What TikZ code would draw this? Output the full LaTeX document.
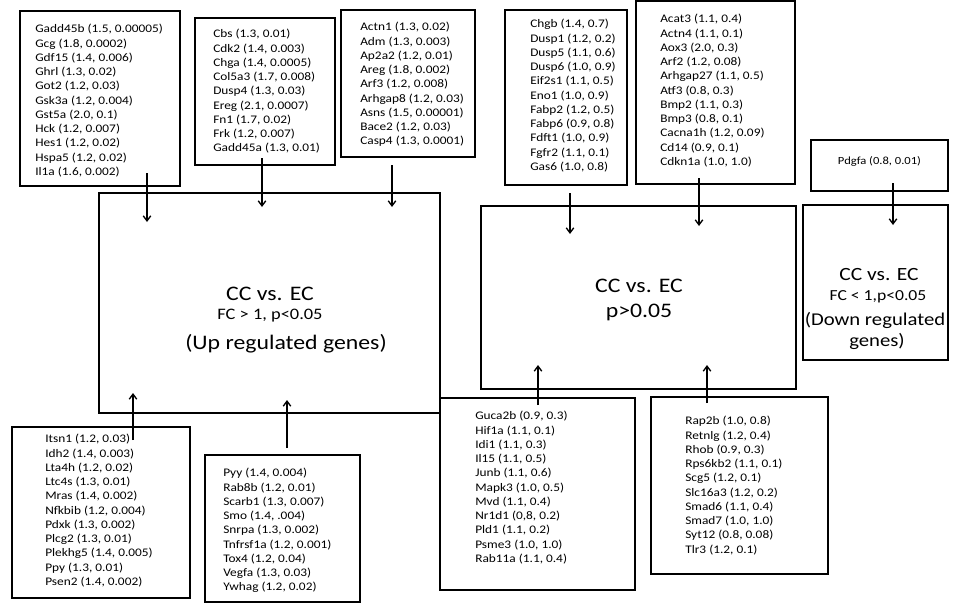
\documentclass[tikz,border=0pt]{standalone}
\usepackage{fontspec}
\setmainfont{Carlito}[FakeStretch=1.15]
\usetikzlibrary{arrows.meta,fit}
\begin{document}
\begin{tikzpicture}[x=0.75pt,y=-0.75pt,
  box/.style={draw,line width=2.1pt,inner sep=0pt,outer sep=0pt},
  genelist/.style={anchor=north west,inner sep=0pt,align=left,font=\fontsize{8.7}{10.7}\selectfont},
  flow/.style={line width=1pt,-{Straight Barb[length=3.8pt,width=5.6pt]}},
  bigtxt/.style={inner sep=0pt,font=\fontsize{15.5}{18}\selectfont},
  smalltxt/.style={inner sep=0pt,font=\fontsize{12}{14}\selectfont}]
\useasboundingbox (0,0) rectangle (960,604);
\node[box,fit={(99,193) (440,413)}] (up) {}; \node[box,fit={(481,206) (796,389)}] (ns) {};
\node[box,fit={(803,205) (948,360)}] (dn) {};
\node[bigtxt] (uptitle) at (270,294) {CC vs. EC}; \node[smalltxt] (upfc) at (270,316) {FC > 1, p<0.05};
\node[bigtxt] (upnote) at (286,344) {(Up regulated genes)};
\node[bigtxt] (nstitle) at (639,286) {CC vs. EC}; \node[bigtxt] (nsp) at (639,312) {p>0.05};
\node[bigtxt,font=\fontsize{14}{16}\selectfont] (dntitle) at (879,275) {CC vs. EC};
\node[smalltxt,font=\fontsize{11.5}{13}\selectfont] (dnfc) at (878,297) {FC < 1,p<0.05};
\node[bigtxt,font=\fontsize{13.5}{16}\selectfont] (dnnote) at (875,320) {(Down regulated};
\node[bigtxt,font=\fontsize{13.5}{16}\selectfont] (dngenes) at (877,341) {genes)};
\node[box,fit={(20,11) (180,186)}] (A) {}; \node[box,fit={(195,18) (335,165)}] (B) {};
\node[box,fit={(341,10) (475,157)}] (C) {}; \node[box,fit={(505,10) (627,185)}] (D) {};
\node[box,fit={(636,1) (795,184)}] (E) {};
\node[box,fit={(811,140) (948,191)},font=\fontsize{8.2}{10}\selectfont] (P) {Pdgfa (0.8, 0.01)};
\node[box,fit={(12,427) (190,598)}] (F) {}; \node[box,fit={(205,455) (360,602)}] (G) {};
\node[box,fit={(440,398) (635,590)}] (H) {}; \node[box,fit={(651,397) (828,574)}] (I) {};
\node[genelist] (Alist) at (35,24) {Gadd45b (1.5, 0.00005)\\Gcg (1.8, 0.0002)\\Gdf15 (1.4, 0.006)\\Ghrl (1.3, 0.02)\\Got2 (1.2, 0.03)\\Gsk3a (1.2, 0.004)\\Gst5a (2.0, 0.1)\\Hck (1.2, 0.007)\\Hes1 (1.2, 0.02)\\Hspa5 (1.2, 0.02)\\Il1a (1.6, 0.002)};
\node[genelist] (Blist) at (213,29) {Cbs (1.3, 0.01)\\Cdk2 (1.4, 0.003)\\Chga (1.4, 0.0005)\\Col5a3 (1.7, 0.008)\\Dusp4 (1.3, 0.03)\\Ereg (2.1, 0.0007)\\Fn1 (1.7, 0.02)\\Frk (1.2, 0.007)\\Gadd45a (1.3, 0.01)};
\node[genelist] (Clist) at (360,22) {Actn1 (1.3, 0.02)\\Adm (1.3, 0.003)\\Ap2a2 (1.2, 0.01)\\Areg (1.8, 0.002)\\Arf3 (1.2, 0.008)\\Arhgap8 (1.2, 0.03)\\Asns (1.5, 0.00001)\\Bace2 (1.2, 0.03)\\Casp4 (1.3, 0.0001)};
\node[genelist] (Dlist) at (530,19) {Chgb (1.4, 0.7)\\Dusp1 (1.2, 0.2)\\Dusp5 (1.1, 0.6)\\Dusp6 (1.0, 0.9)\\Eif2s1 (1.1, 0.5)\\Eno1 (1.0, 0.9)\\Fabp2 (1.2, 0.5)\\Fabp6 (0.9, 0.8)\\Fdft1 (1.0, 0.9)\\Fgfr2 (1.1, 0.1)\\Gas6 (1.0, 0.8)};
\node[genelist] (Elist) at (660,14) {Acat3 (1.1, 0.4)\\Actn4 (1.1, 0.1)\\Aox3 (2.0, 0.3)\\Arf2 (1.2, 0.08)\\Arhgap27 (1.1, 0.5)\\Atf3 (0.8, 0.3)\\Bmp2 (1.1, 0.3)\\Bmp3 (0.8, 0.1)\\Cacna1h (1.2, 0.09)\\Cd14 (0.9, 0.1)\\Cdkn1a (1.0, 1.0)};
\node[genelist] (Flist) at (45,434) {Itsn1 (1.2, 0.03)\\Idh2 (1.4, 0.003)\\Lta4h (1.2, 0.02)\\Ltc4s (1.3, 0.01)\\Mras (1.4, 0.002)\\Nfkbib (1.2, 0.004)\\Pdxk (1.3, 0.002)\\Plcg2 (1.3, 0.01)\\Plekhg5 (1.4, 0.005)\\Ppy (1.3, 0.01)\\Psen2 (1.4, 0.002)};
\node[genelist] (Glist) at (223,468) {Pyy (1.4, 0.004)\\Rab8b (1.2, 0.01)\\Scarb1 (1.3, 0.007)\\Smo (1.4, .004)\\Snrpa (1.3, 0.002)\\Tnfrsf1a (1.2, 0.001)\\Tox4 (1.2, 0.04)\\Vegfa (1.3, 0.03)\\Ywhag (1.2, 0.02)};
\node[genelist] (Hlist) at (475,411) {Guca2b (0.9, 0.3)\\Hif1a (1.1, 0.1)\\Idi1 (1.1, 0.3)\\Il15 (1.1, 0.5)\\Junb (1.1, 0.6)\\Mapk3 (1.0, 0.5)\\Mvd (1.1, 0.4)\\Nr1d1 (0,8, 0.2)\\Pld1 (1.1, 0.2)\\Psme3 (1.0, 1.0)\\Rab11a (1.1, 0.4)};
\node[genelist] (Ilist) at (685,416) {Rap2b (1.0, 0.8)\\Retnlg (1.2, 0.4)\\Rhob (0.9, 0.3)\\Rps6kb2 (1.1, 0.1)\\Scg5 (1.2, 0.1)\\Slc16a3 (1.2, 0.2)\\Smad6 (1.1, 0.4)\\Smad7 (1.0, 1.0)\\Syt12 (0.8, 0.08)\\Tlr3 (1.2, 0.1)};
\draw[flow] ([shift={(127,-13)}]A.south west) -- ([shift={(48,29)}]up.north west);
\draw[flow] ([shift={(67,-7)}]B.south west) -- ([shift={(163,14)}]up.north west);
\draw[flow] ([shift={(51,8)}]C.south west) -- ([shift={(293,14)}]up.north west);
\draw[flow] ([shift={(65,8)}]D.south west) -- ([shift={(89,28)}]ns.north west);
\draw[flow] ([shift={(63,-6)}]E.south west) -- ([shift={(218,20)}]ns.north west);
\draw[flow] ([shift={(82,-8)}]P.south west) -- ([shift={(90,20)}]dn.north west);
\draw[flow] ([shift={(121,13)}]F.north west) -- ([shift={(34,-20)}]up.south west);
\draw[flow] ([shift={(82,-7)}]G.north west) -- ([shift={(188,-13)}]up.south west);
\draw[flow] ([shift={(98,7)}]H.north west) -- ([shift={(57,-24)}]ns.south west);
\draw[flow] ([shift={(56,6)}]I.north west) -- ([shift={(226,-24)}]ns.south west);
\end{tikzpicture}
\end{document}
